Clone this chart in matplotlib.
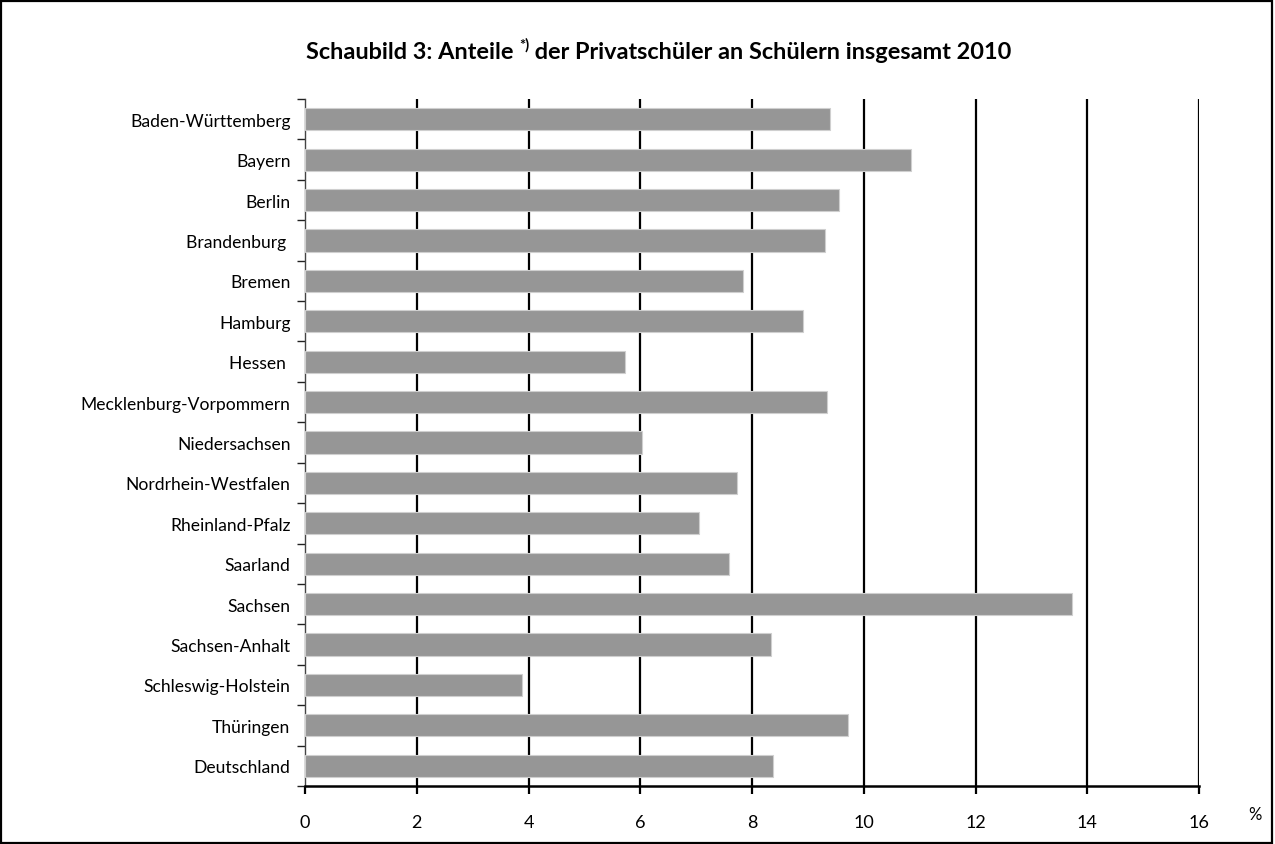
import matplotlib.pyplot as plt
from matplotlib.patches import Rectangle

plt.rcParams['font.family'] = ['Lato', 'DejaVu Sans']

laender = ["Baden-Württemberg", "Bayern", "Berlin", "Brandenburg ", "Bremen", "Hamburg",
           "Hessen ", "Mecklenburg-Vorpommern", "Niedersachsen", "Nordrhein-Westfalen",
           "Rheinland-Pfalz", "Saarland", "Sachsen", "Sachsen-Anhalt", "Schleswig-Holstein",
           "Thüringen", "Deutschland"]
anteile = [9.39, 10.85, 9.55, 9.31, 7.83, 8.91, 5.73, 9.35, 6.04, 7.73,
           7.05, 7.59, 13.72, 8.34, 3.88, 9.72, 8.38]
xticks = [0, 2, 4, 6, 8, 10, 12, 14, 16]

W, H = 1275, 845
fig = plt.figure(figsize=(W / 100, H / 100), dpi=100)
ax = fig.add_axes([305 / W, 1 - 787 / H, (1199 - 305) / W, (787 - 100) / H])

pos = list(range(len(laender)))
ax.barh(pos, anteile, height=0.55, color="#969696", edgecolor="#cfcfcf", linewidth=0.8, zorder=3)
ax.set_ylim(len(laender) - 0.5, -0.5)
ax.set_xlim(0, 16)

# grid lines
for x in xticks[1:]:
    ax.axvline(x, color="black", linewidth=1.6, zorder=1)

ax.set_xticks(xticks)
ax.set_xticklabels([str(v) for v in xticks])
ax.tick_params(axis='x', direction='out', length=6, width=1.6, pad=14, labelsize=13)

ax.set_yticks([p - 0.5 for p in pos] + [len(laender) - 0.5])
ax.set_yticklabels([])
ax.set_yticks(pos, minor=True)
ax.set_yticklabels(laender, minor=True)
ax.tick_params(axis='y', which='major', direction='out', length=6, width=1, color="#222222")
ax.tick_params(axis='y', which='minor', length=0, pad=10.5, labelsize=12.6)

for s in ['top', 'right']:
    ax.spines[s].set_visible(False)
ax.spines['bottom'].set_linewidth(1.8)
ax.spines['left'].set_linewidth(1)
ax.spines['left'].set_color("#444444")

ax.text(1.063, -0.041, "%", transform=ax.transAxes, fontsize=12, ha='center', va='center')

# title with superscript, pieces placed one after another on a common baseline
fig.canvas.draw()
r = fig.canvas.get_renderer()
x0, base = 306, H - 59
parts = [("Schaubild 3: Anteile ", 16.9, 0), ("*)", 10.5, 9), (" der Privatschüler an Schülern insgesamt 2010", 16.9, 0)]
for txt, fs, rise in parts:
    t = fig.text(x0 / W, (base + rise) / H, txt, fontsize=fs, fontweight='bold',
                 ha='left', va='baseline')
    x0 = t.get_window_extent(r).x1

fig.patches.append(Rectangle((0.001, 0.001), 0.997, 0.997, transform=fig.transFigure,
                             fill=False, edgecolor="black", linewidth=1.6))

fig.savefig("out.png", dpi=100)
